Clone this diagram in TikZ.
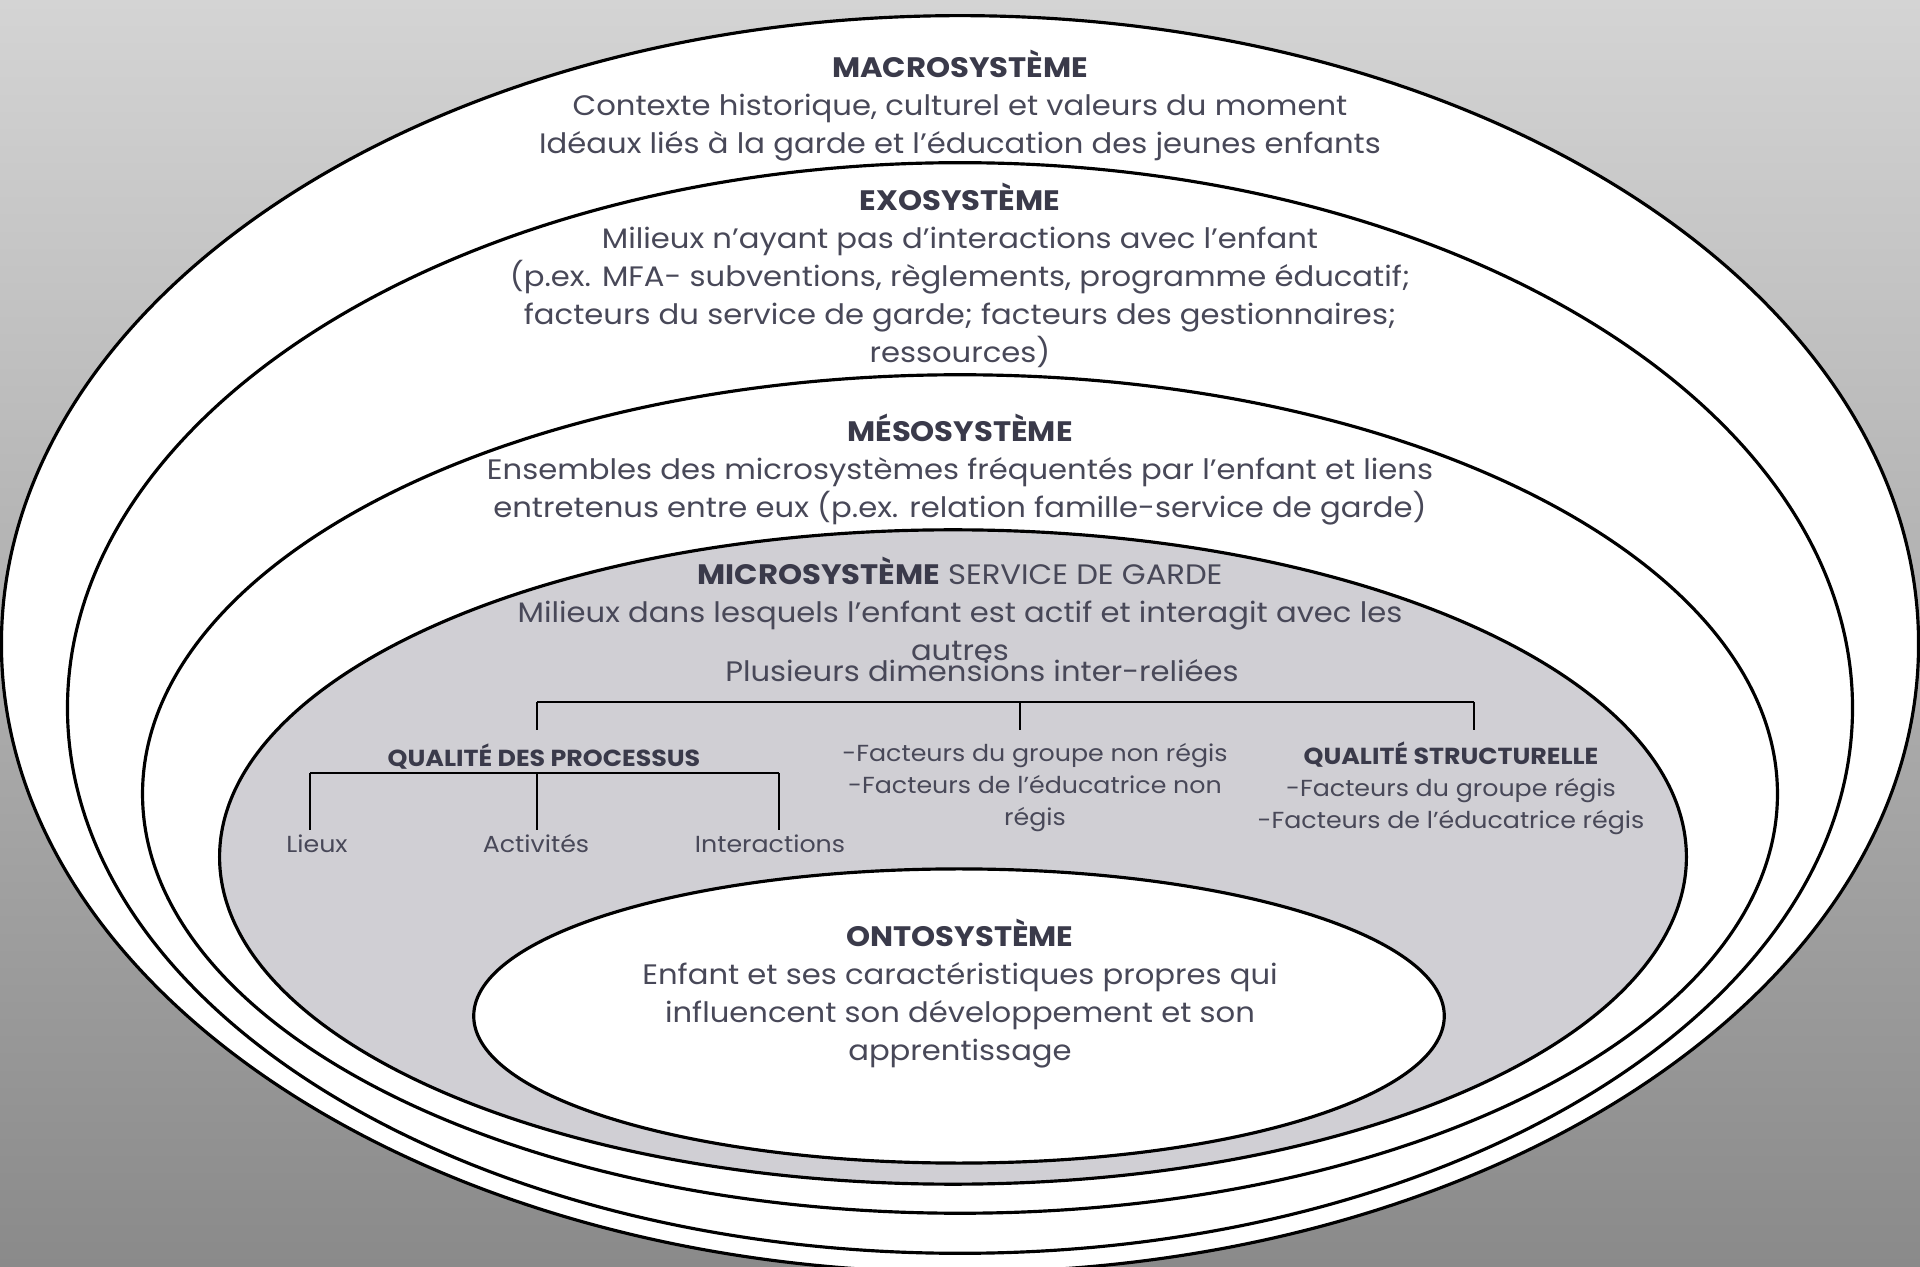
\documentclass[tikz,border=0pt]{standalone}
\usepackage{fontspec}
\setmainfont{Poppins}[FakeStretch=1.09]
\definecolor{fondmicro}{RGB}{208,207,212}
\definecolor{texte}{RGB}{72,72,88}
\definecolor{titre}{RGB}{58,58,74}
\tikzset{
	niveau/.style={draw, line width=0.9pt},
	corps/.style={text=texte, align=center, font=\fontsize{8}{10.8}\selectfont},
	petit/.style={text=texte, align=center, font=\fontsize{6.6}{9.1}\selectfont},
	branche/.style={line width=0.6pt}
}
\newcommand{\titresys}[1]{{\color{titre}\bfseries #1}}
\begin{document}
\begin{tikzpicture}[x=0.01cm, y=-0.01cm]
	\useasboundingbox (0,0) rectangle (1920,1267);
	\shade[top color={rgb,255:red,212;green,212;blue,212}, bottom color={rgb,255:red,138;green,138;blue,138}] (0,0) rectangle (1920,1267);
	\foreach \cx/\cy/\rx/\ry/\couleur in {960/644/9.58/6.28/white, 960/708/8.92/5.45/white, 960/794/8.17/4.19/white, 953/857/7.33/3.27/fondmicro, 959/1016/4.85/1.47/white}
	{
		\draw[niveau, fill=\couleur] (\cx,\cy) ellipse [x radius=\rx cm, y radius=\ry cm];
	}
	\node (macro)[corps] at (960,106) {\titresys{MACROSYSTÈME}\\Contexte historique, culturel et valeurs du moment\\Idéaux liés à la garde et l’éducation des jeunes enfants};
	\node (exo)[corps] at (960,275) {\titresys{EXOSYSTÈME}\\Milieux n’ayant pas d’interactions avec l’enfant\\(p.ex. MFA- subventions, règlements, programme éducatif;\\facteurs du service de garde; facteurs des gestionnaires;\\ressources)};
	\node (meso)[corps] at (960,470) {\titresys{MÉSOSYSTÈME}\\Ensembles des microsystèmes fréquentés par l’enfant et liens\\entretenus entre eux (p.ex. relation famille-service de garde)};
	\node (micro)[corps] at (960,609) {\titresys{MICROSYSTÈME} SERVICE DE GARDE\\Milieux dans lesquels l’enfant est actif et interagit avec les\\autres};
	\node (dims)[corps] at (982,671) {Plusieurs dimensions inter-reliées};
	\node (onto)[corps] at (960,994) {\titresys{ONTOSYSTÈME}\\Enfant et ses caractéristiques propres qui\\influencent son développement et son\\apprentissage};
	\node (QP)[petit] at (544,757) {\titresys{QUALITÉ DES PROCESSUS}};
	\node (NR)[petit] at (1035,788) {-Facteurs du groupe non régis\\-Facteurs de l’éducatrice non\\régis};
	\node (QS)[petit] at (1451,788) {\titresys{QUALITÉ STRUCTURELLE}\\-Facteurs du groupe régis\\-Facteurs de l’éducatrice régis};
	\node (L1)[petit] at (317,844) {Lieux};
	\node (L2)[petit] at (536,844) {Activités};
	\node (L3)[petit] at (770,844) {Interactions};
	\coordinate (h1) at (537,702);
	\coordinate (h2) at (1020,702);
	\coordinate (h3) at (1474,702);
	\coordinate (b1) at (310,773);
	\coordinate (b2) at (537,773);
	\coordinate (b3) at (779,773);
	\draw[branche] (h1)--(h3);
	\draw[branche] (b1)--(b3);
	\foreach \x in {1,2,3}
	{
		\draw[branche] (h\x)--++(0,28);
		\draw[branche] (b\x)--++(0,57);
	}
\end{tikzpicture}
\end{document}
